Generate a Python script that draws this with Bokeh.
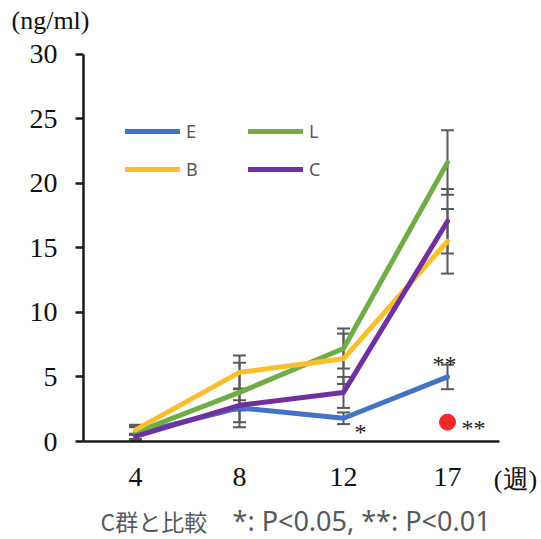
from bokeh.plotting import figure
from bokeh.models import (Range1d, Legend, LegendItem, Label, LinearAxis,
                          FixedTicker, Whisker, TeeHead, ColumnDataSource)
from bokeh.embed import file_html
from bokeh.resources import INLINE

# ---- data ----
weeks = ["4", "8", "12", "17"]
E = [0.6, 2.6, 1.8, 5.0]
E_err = [0.5, 1.5, 0.45, 0.95]
L = [0.7, 3.8, 7.2, 21.6]
L_err = [0.5, 2.3, 1.55, 2.5]
B = [0.9, 5.35, 6.4, 15.5]
B_err = [0.4, 1.3, 1.95, 2.5]
C = [0.4, 2.8, 3.8, 17.05]
C_err = [0.2, 0.4, 1.2, 2.5]
red_week = ["17"]
red_value = [1.5]
y_ticks = [0, 5, 10, 15, 20, 25, 30]

series = [
    ("E", E, E_err, "#4472C4"),
    ("L", L, L_err, "#70AD47"),
    ("B", B, B_err, "#FBBF2B"),
    ("C", C, C_err, "#7030A0"),
]

# category positions (1..n) on a numeric scale so texts outside the axes box stay visible
xpos = {w: i + 1 for i, w in enumerate(weeks)}
xs = [xpos[w] for w in weeks]

W, H = 541, 539
px_per_x = 104.0
x0_px = 31.0                     # pixel of x = 0
y0_px, y30_px = 441.0, 53.5      # pixels of y = 0 and y = 30
px_per_y = (y0_px - y30_px) / 30.0

p = figure(width=W, height=H, title=None,
           x_range=Range1d(-x0_px / px_per_x, (W - x0_px) / px_per_x),
           y_range=Range1d(-(H - y0_px) / px_per_y, 30 + y30_px / px_per_y),
           x_axis_location=None, y_axis_location=None,
           output_backend="svg", toolbar_location=None, min_border=0)
p.outline_line_color = None
p.xgrid.visible = False
p.ygrid.visible = False
p.background_fill_color = "white"
p.border_fill_color = "white"

axis_color = "#1a1a1a"
xaxis = LinearAxis(ticker=FixedTicker(ticks=xs),
                   major_label_overrides={xpos[w]: w for w in weeks},
                   fixed_location=0, bounds=(0.5, len(weeks) + 0.5))
yaxis = LinearAxis(ticker=FixedTicker(ticks=y_ticks),
                   fixed_location=0.5, bounds=(0, 30))
for ax in (xaxis, yaxis):
    ax.axis_line_color = axis_color
    ax.axis_line_width = 2.5
    ax.major_label_text_font = "Liberation Serif"
    ax.major_label_text_font_size = "28px"
    ax.major_label_text_color = "#111111"
    ax.minor_tick_line_color = None

yaxis.major_tick_out = 8
yaxis.major_tick_in = 0
yaxis.major_tick_line_width = 2.5
yaxis.major_tick_line_color = axis_color
yaxis.major_label_standoff = 18

xaxis.major_tick_line_color = None
xaxis.major_tick_out = 0
xaxis.major_tick_in = 0
xaxis.major_label_standoff = 26

p.add_layout(xaxis, "below")
p.add_layout(yaxis, "left")

renderers = {}
for name, vals, errs, color in series:
    r = p.line(xs, vals, line_color=color, line_width=5,
               line_cap="round", line_join="round")
    renderers[name] = r

for name, vals, errs, color in series:
    src = ColumnDataSource(dict(
        x=xs,
        upper=[v + e for v, e in zip(vals, errs)],
        lower=[v - e for v, e in zip(vals, errs)],
    ))
    w = Whisker(base="x", upper="upper", lower="lower", source=src,
                dimension="height", line_color="#595959", line_width=2,
                upper_head=TeeHead(size=13, line_color="#595959", line_width=2),
                lower_head=TeeHead(size=13, line_color="#595959", line_width=2))
    p.add_layout(w)

p.scatter([xpos[w] for w in red_week], red_value, size=16, marker="circle",
          fill_color="#EE2A2A", line_color="#EE2A2A")

# legends (two columns)
def make_legend(names, loc):
    lg = Legend(items=[LegendItem(label=n, renderers=[renderers[n]]) for n in names],
                location=loc, orientation="vertical",
                glyph_width=55, glyph_height=20, label_height=20,
                label_standoff=6, spacing=14, padding=0, margin=0,
                border_line_color=None, background_fill_alpha=0,
                label_text_font="Noto Sans", label_text_font_size="18px",
                label_text_color="#595959", label_text_baseline="middle")
    p.add_layout(lg, "center")

make_legend(["E", "B"], (125, 358))
make_legend(["L", "C"], (248, 358))

def X(px):
    return (px - x0_px) / px_per_x

def Y(px):
    return (y0_px - px) / px_per_y

# significance marks
star_font = "Liberation Serif"
for text, cx, cy in [("*", 360, 431.5), ("**", 444, 363), ("**", 473, 427)]:
    p.add_layout(Label(x=X(cx), y=Y(cy), text=text, text_font=star_font,
                       text_font_size="24px", text_align="center",
                       text_baseline="alphabetic", text_color="#222222"))

p.add_layout(Label(x=X(50), y=Y(20), text="(ng/ml)", text_font="Liberation Serif",
                   text_font_size="26px", text_align="center",
                   text_baseline="middle", text_color="#111111"))
p.add_layout(Label(x=X(515), y=Y(479), text="(週)", text_font="Liberation Serif",
                   text_font_size="26px", text_align="center",
                   text_baseline="middle", text_color="#111111"))
p.add_layout(Label(x=X(100), y=Y(520), text="C群と比較", text_font="Noto Sans CJK JP",
                   text_font_size="23px", text_align="left",
                   text_baseline="middle", text_color="#595959"))
p.add_layout(Label(x=X(232), y=Y(520), text="*: P<0.05, **: P<0.01", text_font="Noto Sans",
                   text_font_size="27px", text_align="left",
                   text_baseline="middle", text_color="#595959"))

open("out.html", "w").write(file_html(p, INLINE))
